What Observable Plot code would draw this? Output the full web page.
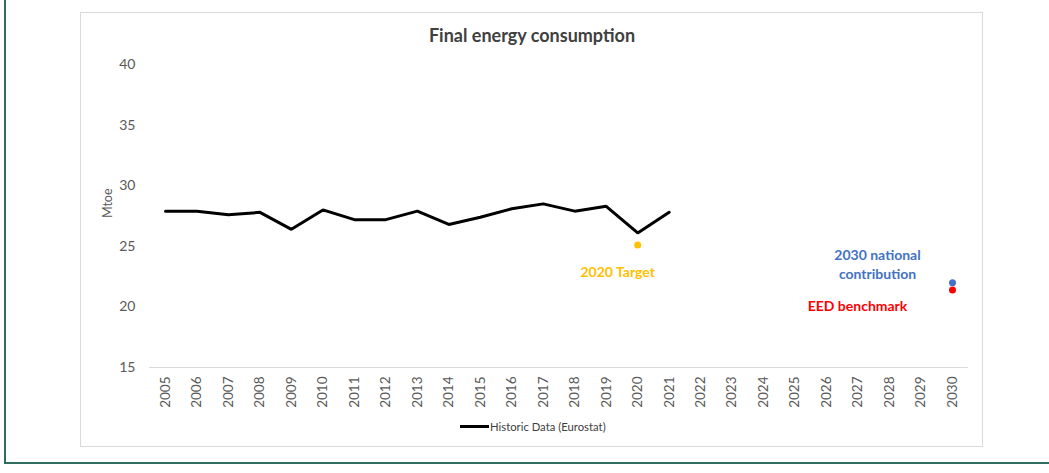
<!DOCTYPE html>
<html>
<head>
<meta charset="utf-8">
<script src="https://cdn.jsdelivr.net/npm/d3@7"></script>
<script src="https://cdn.jsdelivr.net/npm/@observablehq/plot@0.6"></script>
<style>
  html, body { margin: 0; padding: 0; background: #fff; }
  #wrap { position: relative; width: 1049px; height: 473px; overflow: hidden; font-family: Lato, "Open Sans", sans-serif; }
  #greenL { position: absolute; left: 4px; top: 0; width: 1.5px; height: 464px; background: #2d6e5e; }
  #greenB { position: absolute; left: 4px; top: 462px; width: 1045px; height: 1.5px; background: #2d6e5e; }
  #panel { position: absolute; left: 80px; top: 12px; width: 903px; height: 435px; border: 1px solid #d9d9d9; box-sizing: border-box; }
  #chart { position: absolute; left: 0; top: 0; }
  #title { position: absolute; left: 0; width: 1064px; top: 24px; text-align: center; font-weight: bold; font-size: 18px; color: #404040; }
  #legend { position: absolute; left: 460px; top: 420px; font-size: 11.3px; color: #404040; display: flex; align-items: center; }
  #legend .sw { width: 29px; height: 3px; background: #000; margin-right: 1px; }
</style>
</head>
<body>
<div id="wrap">
  <div id="greenL"></div>
  <div id="greenB"></div>
  <div id="panel"></div>
  <div id="chart"></div>
  <div id="title">Final energy consumption</div>
  <div id="legend"><span class="sw"></span><span>Historic Data (Eurostat)</span></div>
</div>
<script>
const years = [2005,2006,2007,2008,2009,2010,2011,2012,2013,2014,2015,2016,2017,2018,2019,2020,2021];
const historic = [27.9,27.9,27.6,27.8,26.4,28.0,27.2,27.2,27.9,26.8,27.4,28.1,28.5,27.9,28.3,26.1,27.8];
const tickYears = d3.range(2005, 2031);
const yTicks = [15,20,25,30,35,40];
const targetYear = [2020];
const targetValue = [25.1];
const nationalYear = [2030];
const nationalValue = [22.0];
const eedYear = [2030];
const eedValue = [21.4];

const hist = years.map((y, i) => ({year: y, value: historic[i]}));
const target = targetYear.map((y, i) => ({year: y, value: targetValue[i]}));
const national = nationalYear.map((y, i) => ({year: y, value: nationalValue[i]}));
const eed = eedYear.map((y, i) => ({year: y, value: eedValue[i]}));

const chart = Plot.plot({
  width: 1049,
  height: 473,
  marginLeft: 165,
  marginRight: 97,
  marginTop: 64,
  marginBottom: 106,
  style: { fontFamily: "Lato, 'Open Sans', sans-serif", background: "transparent", overflow: "visible" },
  x: { type: "linear", domain: [2005, 2030] },
  y: { domain: [15, 40] },
  marks: [
    Plot.ruleY([15], { x1: 2004.5, x2: 2030.5, stroke: "#d9d9d9", strokeWidth: 1 }),
    Plot.axisY({ ticks: yTicks, tickSize: 0, tickPadding: 30, fontSize: 14, fill: "#595959", label: null }),
    Plot.axisX({ ticks: tickYears, tickFormat: "d", tickSize: 0, tickPadding: 9, tickRotate: -90, fontSize: 13.5, fill: "#595959", label: null }),
    Plot.text(["Mtoe"], { frameAnchor: "left", dx: -58, dy: 2, rotate: -90, fontSize: 12.5, fill: "#595959" }),
    Plot.line(hist, { x: "year", y: "value", stroke: "#000", strokeWidth: 3, strokeLinejoin: "miter" }),
    Plot.dot(target, { x: "year", y: "value", r: 3.5, fill: "#FFC000" }),
    Plot.dot(national, { x: "year", y: "value", r: 3.5, fill: "#4472C4" }),
    Plot.dot(eed, { x: "year", y: "value", r: 3.5, fill: "#FF0000" }),
    Plot.text(target, { x: "year", y: "value", text: () => "2020 Target", dx: -20, dy: 27, fill: "#FFC000", fontWeight: "bold", fontSize: 14 }),
    Plot.text(national, { x: "year", y: "value", text: () => "2030 national\ncontribution", dx: -75, dy: -19, lineHeight: 1.3, fill: "#4472C4", fontWeight: "bold", fontSize: 14 }),
    Plot.text(eed, { x: "year", y: "value", text: () => "EED benchmark", dx: -95, dy: 17, fill: "#FF0000", fontWeight: "bold", fontSize: 14 })
  ]
});
document.getElementById("chart").appendChild(chart);
</script>
</body>
</html>
